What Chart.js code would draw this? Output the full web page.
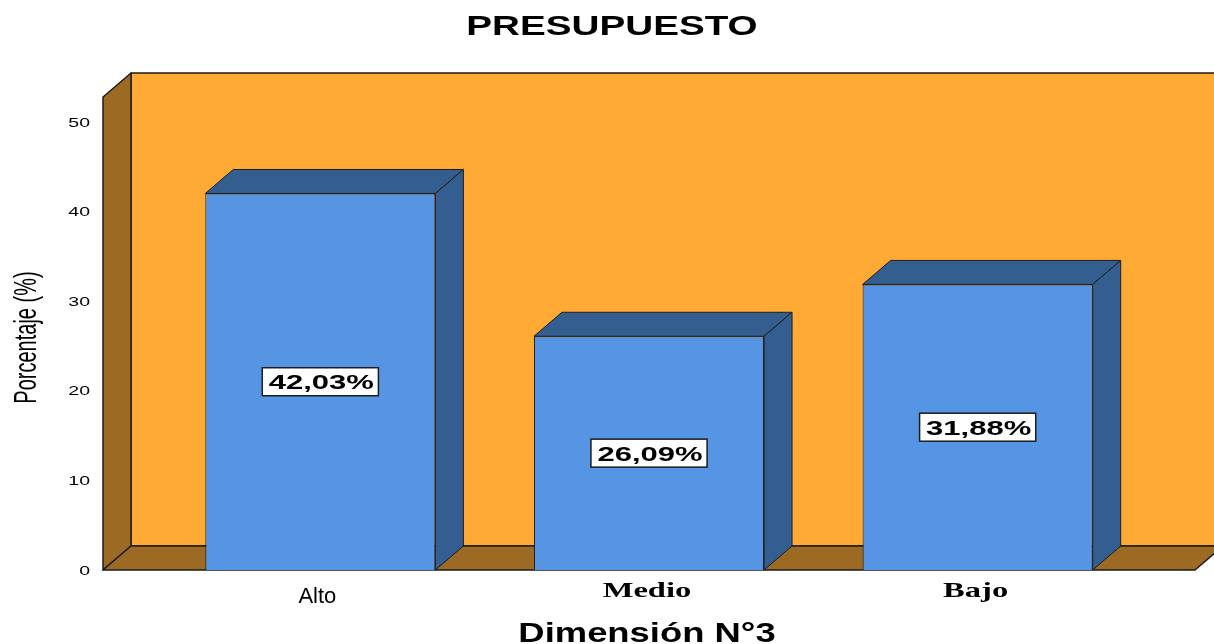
<!DOCTYPE html>
<html>
<head>
<meta charset="utf-8">
<title>Presupuesto</title>
<script src="https://cdn.jsdelivr.net/npm/chart.js@4/dist/chart.umd.min.js"></script>
<style>
  html, body { margin: 0; padding: 0; background: #fff; }
  canvas { display: block; }
</style>
</head>
<body>
<canvas id="presupuesto-chart" width="1214" height="644"></canvas>
<script>
/* Presupuesto — barras 3D por nivel de la Dimensión N°3 */

const categories  = ['Alto', 'Medio', 'Bajo'];
const percentages = [42.03, 26.09, 31.88];
const yTickValues = [0, 10, 20, 30, 40, 50];
const yMax = 52.8;

// profundidad del efecto 3D y colores
const DX = 28, DY = -24;
const WALL_PAD = 53;
const COL = {
  wall:  '#FFAA35',
  side:  '#9C6A22',
  front: '#5595E4',
  dark:  '#345D90',
  line:  '#1d1d1d'
};

const fmtPct = v => v.toFixed(2).replace('.', ',') + '%';

function poly(ctx, pts, fill) {
  ctx.beginPath();
  ctx.moveTo(pts[0][0], pts[0][1]);
  for (let i = 1; i < pts.length; i++) ctx.lineTo(pts[i][0], pts[i][1]);
  ctx.closePath();
  ctx.fillStyle = fill;
  ctx.fill();
  ctx.stroke();
}

// texto ensanchado horizontalmente (sx)
function wideText(ctx, text, x, y, sx, font, align) {
  ctx.save();
  ctx.font = font;
  ctx.fillStyle = '#000';
  ctx.textAlign = align || 'center';
  ctx.translate(x, y);
  ctx.scale(sx, 1);
  ctx.fillText(text, 0, 0);
  ctx.restore();
}

const box3d = {
  id: 'box3d',
  beforeDatasetsDraw(chart) {
    const { ctx, chartArea: { left, right, top, bottom } } = chart;
    const wl = left - WALL_PAD, wr = right + WALL_PAD;
    ctx.save();
    ctx.strokeStyle = COL.line;
    ctx.lineWidth = 1.5;
    ctx.lineJoin = 'round';
    // pared del fondo
    poly(ctx, [[wl + DX, top + DY], [wr + DX, top + DY], [wr + DX, bottom + DY], [wl + DX, bottom + DY]], COL.wall);
    // pared lateral
    poly(ctx, [[wl, top], [wl + DX, top + DY], [wl + DX, bottom + DY], [wl, bottom]], COL.side);
    // piso
    poly(ctx, [[wl, bottom], [wl + DX, bottom + DY], [wr + DX, bottom + DY], [wr, bottom]], COL.side);
    ctx.restore();
  },
  afterDatasetsDraw(chart) {
    const { ctx } = chart;
    const meta = chart.getDatasetMeta(0);
    const ys = chart.scales.y;
    const lblFont = "bold 20px 'Liberation Sans'";
    ctx.save();
    ctx.strokeStyle = COL.line;
    ctx.lineWidth = 1;
    meta.data.forEach((bar, i) => {
      const x0 = bar.x - bar.width / 2, x1 = bar.x + bar.width / 2;
      const y = bar.y, b = bar.base;
      // cara superior
      poly(ctx, [[x0, y], [x0 + DX, y + DY], [x1 + DX, y + DY], [x1, y]], COL.dark);
      // cara lateral
      poly(ctx, [[x1, y], [x1 + DX, y + DY], [x1 + DX, b + DY], [x1, b]], COL.dark);

      // etiqueta del valor, a media altura de la barra
      const txt = fmtPct(percentages[i]);
      const ly = ys.getPixelForValue(percentages[i] / 2);
      ctx.font = lblFont;
      const w = ctx.measureText(txt).width * 1.55 + 11;
      ctx.fillStyle = '#fff';
      ctx.fillRect(bar.x - w / 2, ly - 14, w, 28);
      ctx.lineWidth = 1.5;
      ctx.strokeRect(bar.x - w / 2, ly - 14, w, 28);
      ctx.lineWidth = 1;
      wideText(ctx, txt, bar.x + 1, ly + 7.5, 1.55, lblFont);
    });
    ctx.restore();
  },
  afterDraw(chart) {
    const { ctx, chartArea: { top, bottom } } = chart;
    const ys = chart.scales.y, xs = chart.scales.x;
    const W = chart.width;

    // marcas del eje Y
    ys.ticks.forEach(t => {
      ctx.save();
      ctx.textBaseline = 'middle';
      wideText(ctx, String(t.value), 90, ys.getPixelForValue(t.value) + 1, 1.5, "13px 'Liberation Sans'", 'right');
      ctx.restore();
    });

    // categorías
    categories.forEach((c, i) => {
      const x = xs.getPixelForValue(i);
      if (i === 0) wideText(ctx, c, x - 3, bottom + 33, 1.0, "22px 'Liberation Sans'");
      else wideText(ctx, c, x - 2, bottom + 27, 1.48, "bold 22px 'Liberation Serif'");
    });

    // títulos
    wideText(ctx, 'PRESUPUESTO', W / 2 + 5, 35, 1.38, "bold 28px 'Liberation Sans'");
    wideText(ctx, 'Dimensión N°3', 647, 642, 1.3, "bold 28px 'Liberation Sans'");

    ctx.save();
    ctx.font = "20px 'Liberation Sans'";
    ctx.fillStyle = '#000';
    ctx.textAlign = 'center';
    ctx.translate(36, (top + bottom) / 2 + 4);
    ctx.rotate(-Math.PI / 2);
    ctx.scale(1.0, 1.55);
    ctx.fillText('Porcentaje (%)', 0, 0);
    ctx.restore();
  }
};

const chart = new Chart(document.getElementById('presupuesto-chart'), {
  type: 'bar',
  data: {
    labels: categories,
    datasets: [{
      label: 'Porcentaje (%)',
      data: percentages,
      backgroundColor: COL.front,
      borderColor: COL.line,
      borderWidth: 1,
      barPercentage: 0.7,
      categoryPercentage: 1
    }]
  },
  options: {
    responsive: false,
    animation: false,
    devicePixelRatio: 1,
    layout: { padding: { top: 97, bottom: 74, left: 156, right: 72 } },
    plugins: { legend: { display: false }, title: { display: false }, tooltip: { enabled: false } },
    scales: {
      x: { display: false, offset: true },
      y: {
        display: false,
        min: 0,
        max: yMax,
        afterBuildTicks: s => { s.ticks = yTickValues.map(v => ({ value: v })); }
      }
    }
  },
  plugins: [box3d]
});
</script>
</body>
</html>
